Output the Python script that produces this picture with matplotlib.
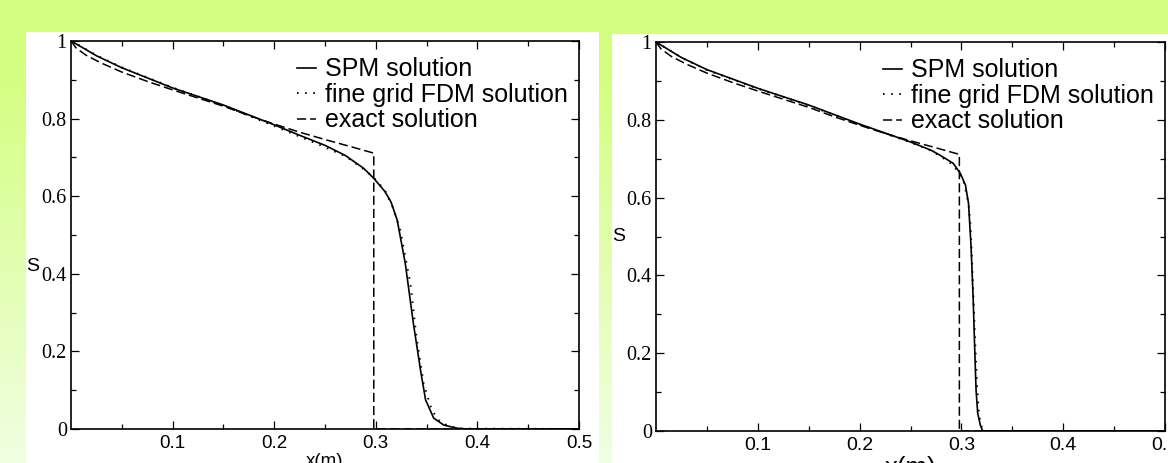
import numpy as np
import matplotlib
matplotlib.use("Agg")
import matplotlib.pyplot as plt
from matplotlib.patches import Rectangle
from matplotlib.ticker import FixedLocator, FixedFormatter

# exact solution (same for both panels): rarefaction + shock at x ~ 0.298
x_exact = [0.0, 0.005, 0.015, 0.03, 0.05, 0.075, 0.1, 0.125, 0.15, 0.175,
           0.2, 0.225, 0.25, 0.275, 0.298, 0.298, 0.5]
s_exact = [1.0, 0.982, 0.963, 0.943, 0.920, 0.896, 0.874, 0.853, 0.832, 0.808,
           0.786, 0.765, 0.746, 0.728, 0.711, 0.0, 0.0]

# left panel
x_spm_a = [0.0, 0.01, 0.025, 0.05, 0.1, 0.15, 0.2, 0.225, 0.25, 0.27, 0.288,
           0.298, 0.309, 0.315, 0.321, 0.329, 0.337, 0.344, 0.349, 0.357,
           0.367, 0.38, 0.39, 0.5]
s_spm_a = [1.0, 0.985, 0.962, 0.931, 0.879, 0.835, 0.784, 0.757, 0.731, 0.705,
           0.672, 0.646, 0.612, 0.585, 0.539, 0.427, 0.272, 0.152, 0.075, 0.028,
           0.010, 0.002, 0.0, 0.0]
x_fdm_a = [0.0, 0.01, 0.025, 0.05, 0.1, 0.15, 0.2, 0.245, 0.27, 0.288, 0.298,
           0.309, 0.317, 0.324, 0.334, 0.340, 0.347, 0.352, 0.355, 0.363,
           0.373, 0.385, 0.5]
s_fdm_a = [1.0, 0.986, 0.963, 0.932, 0.880, 0.834, 0.781, 0.732, 0.703, 0.670,
           0.648, 0.615, 0.570, 0.513, 0.375, 0.238, 0.118, 0.075, 0.049, 0.019,
           0.006, 0.001, 0.0]

# right panel
x_spm_b = [0.0, 0.01, 0.025, 0.05, 0.1, 0.15, 0.2, 0.25, 0.27, 0.279, 0.292,
           0.299, 0.304, 0.307, 0.3095, 0.3115, 0.313, 0.3144, 0.316, 0.3186,
           0.321, 0.5]
s_spm_b = [1.0, 0.984, 0.960, 0.929, 0.881, 0.838, 0.789, 0.743, 0.722, 0.709,
           0.688, 0.662, 0.632, 0.585, 0.474, 0.345, 0.217, 0.105, 0.046, 0.015,
           0.0, 0.0]
x_fdm_b = [0.0, 0.01, 0.025, 0.05, 0.1, 0.15, 0.2, 0.25, 0.27, 0.279, 0.292,
           0.302, 0.307, 0.309, 0.3105, 0.312, 0.3137, 0.3154, 0.317, 0.3186,
           0.321, 0.325, 0.5]
s_fdm_b = [1.0, 0.984, 0.960, 0.928, 0.880, 0.837, 0.788, 0.742, 0.721, 0.707,
           0.684, 0.645, 0.585, 0.525, 0.431, 0.328, 0.217, 0.114, 0.054, 0.020,
           0.003, 0.0, 0.0]

x_major = [0.1, 0.2, 0.3, 0.4, 0.5]
x_labels = ["0.1", "0.2", "0.3", "0.4", "0.5"]
x_minor = [0.05, 0.15, 0.25, 0.35, 0.45]
y_major = [0.0, 0.2, 0.4, 0.6, 0.8, 1.0]
y_labels = ["0", "0.2", "0.4", "0.6", "0.8", "1"]
y_minor = [0.1, 0.3, 0.5, 0.7, 0.9]

legend_labels = ["SPM solution", "fine grid FDM solution", "exact solution"]

SANS = "Liberation Sans"
SERIF = "Liberation Serif"

W, H = 1168, 463
fig = plt.figure(figsize=(W / 100, H / 100), dpi=100)

# green gradient background
t = np.linspace(0, 1, 256)[:, None]
w = np.clip((t - 0.15) / 0.85, 0, 1)
top = np.array([212, 254, 128]) / 255
bot = np.array([240, 255, 226]) / 255
grad = top[None, None, :] * (1 - w[..., None]) + bot[None, None, :] * w[..., None]
bg = fig.add_axes([0, 0, 1, 1], zorder=-10)
bg.imshow(grad, aspect="auto", extent=[0, 1, 0, 1])
bg.axis("off")

# white panels
for (x0, x1, ytop) in [(26, 599, 32), (612, 1168, 34)]:
    fig.patches.append(Rectangle((x0 / W, 0), (x1 - x0) / W, (H - ytop) / H,
                                 transform=fig.transFigure, facecolor="white",
                                 edgecolor="none", zorder=-5))


def panel(rect, xs, ss, xf, sf, xlab_size, xlab_y, slab_xy, tick_size):
    ax = fig.add_axes(rect)
    ax.set_facecolor("none")
    l1, = ax.plot(xs, ss, color="black", lw=1.2)
    l2, = ax.plot(xf, sf, color="black", lw=1.4, dashes=(0.8, 3.4))
    l3, = ax.plot(x_exact, s_exact, color="black", lw=1.1, dashes=(6, 2.6))
    ax.set_xlim(0, 0.5)
    ax.set_ylim(0, 1)
    ax.xaxis.set_major_locator(FixedLocator(x_major))
    ax.xaxis.set_major_formatter(FixedFormatter(x_labels))
    ax.xaxis.set_minor_locator(FixedLocator(x_minor))
    ax.yaxis.set_major_locator(FixedLocator(y_major))
    ax.yaxis.set_major_formatter(FixedFormatter(y_labels))
    ax.yaxis.set_minor_locator(FixedLocator(y_minor))
    ax.tick_params(which="both", direction="in", top=True, right=True,
                   width=0.9, color="black")
    ax.tick_params(which="major", length=6)
    ax.tick_params(which="minor", length=3.4)
    ax.tick_params(axis="x", labelsize=tick_size, labelfontfamily=SANS, pad=4)
    ax.tick_params(axis="y", labelsize=14.5, labelfontfamily=SERIF, pad=3)
    for sp in ax.spines.values():
        sp.set_linewidth(1.2)
    ax.set_xlabel("x(m)", fontsize=xlab_size, family=SANS, va="top")
    ax.xaxis.set_label_coords(0.5, xlab_y)
    ax.set_ylabel("S", fontsize=14, family=SANS, rotation=0,
                  ha="center", va="center")
    ax.yaxis.set_label_coords(*slab_xy)
    ax.legend([l1, l2, l3], legend_labels, frameon=False, loc="upper right",
              bbox_to_anchor=(0.978, 0.958), borderpad=0, borderaxespad=0,
              handlelength=0.75, handletextpad=0.35, labelspacing=0.06,
              prop={"family": SANS, "size": 18})
    return ax


panel([71 / W, (H - 429) / H, 508 / W, 388 / H],
      x_spm_a, s_spm_a, x_fdm_a, s_fdm_a, 13.5, -0.062, (-0.075, 0.42), 13.5)
panel([656 / W, (H - 431) / H, 509 / W, 389 / H],
      x_spm_b, s_spm_b, x_fdm_b, s_fdm_b, 18.5, -0.064, (-0.073, 0.499), 14)

fig.savefig("out.png", dpi=100)
